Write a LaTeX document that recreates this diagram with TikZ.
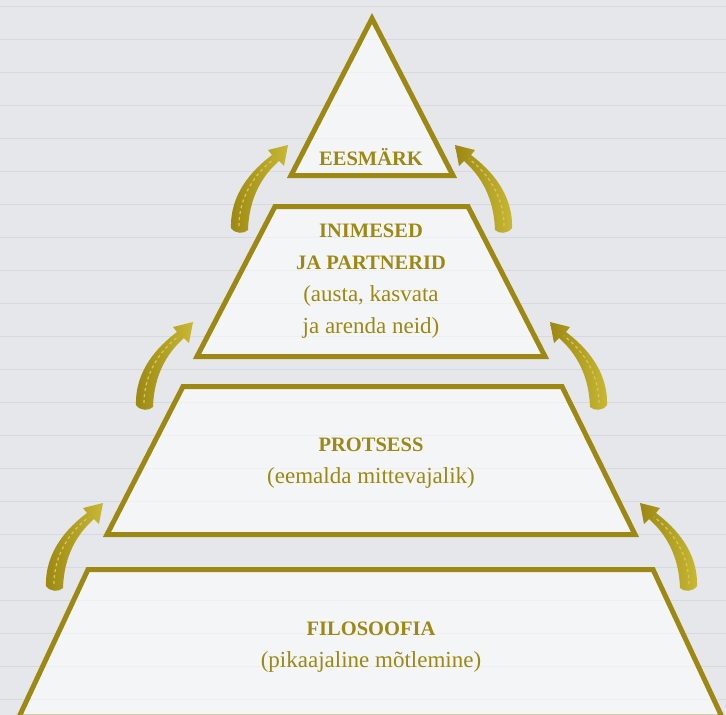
\documentclass[tikz,border=0pt]{standalone}
\usepackage{fontspec}
\setmainfont{Liberation Serif}
\definecolor{kuld}{RGB}{156,136,18}
\definecolor{kuldhele}{RGB}{200,184,52}
\definecolor{taust}{RGB}{229,231,235}
\definecolor{triip}{RGB}{214,217,222}
\tikzset{
  kiht/.style={draw=kuld,line width=5pt,fill=white,fill opacity=0.6,line join=miter},
  silt/.style={text=kuld,align=center,font=\fontsize{23}{32}\selectfont},
}
\newcommand\pea[1]{{\bfseries\fontsize{20.5}{32}\selectfont #1}}
\newcommand\noolkuju{%
  \shade[left color=kuld,right color=kuldhele] (-9,-4) .. controls (-10,-38) and (12,-62) .. (32,-77) -- (28,-82) -- (48,-87)
    -- (44,-66) -- (39,-71) .. controls (22,-56) and (9,-34) .. (8,-2) .. controls (4,2) and (-5,2) .. cycle;
  \draw[kuldhele!80!white,line width=1.3pt,dash pattern=on 3pt off 3pt] (-1,-6) .. controls (-1,-34) and (14,-58) .. (34,-73);}
\begin{document}
\begin{tikzpicture}[x=1pt,y=-1pt,line cap=butt]
  \useasboundingbox (0,0) rectangle (726,715);
  \clip (0,0) rectangle (726,715);
  % taust
  \fill[taust] (0,0) rectangle (726,715);
  \foreach \yy in {6,39,...,710}{\draw[triip,line width=1pt] (0,\yy)--(726,\yy);}
  % kihid
  \draw[kiht] (372,18.5)--(453,175.5)--(291,175.5)--cycle;
  \draw[kiht] (275,206.5)--(468,206.5)--(545,356.5)--(197,356.5)--cycle;
  \draw[kiht] (183,386.5)--(562,386.5)--(635,534.5)--(107,534.5)--cycle;
  \draw[kiht] (88,569.5)--(653,569.5)--(722,717)--(19,717)--cycle;
  % tekstid
  \node[silt] (eesmark) at (371,157) {\pea{EESMÄRK}};
  \node[silt] (inimesed) at (371,281) {\pea{INIMESED}\\\pea{JA PARTNERID}\\(austa, kasvata\\ja arenda neid)};
  \node[silt] (protsess) at (371,463) {\pea{PROTSESS}\\(eemalda mittevajalik)};
  \node[silt] (filosoofia) at (371,647) {\pea{FILOSOOFIA}\\(pikaajaline mõtlemine)};
  % nooled
  \foreach \x/\y in {240/232,145/409,55/590}{
    \begin{scope}[shift={(\x,\y)}]
      \noolkuju
    \end{scope}
    \begin{scope}[shift={(743-\x,\y)},xscale=-1]
      \noolkuju
    \end{scope}
  }
\end{tikzpicture}
\end{document}
